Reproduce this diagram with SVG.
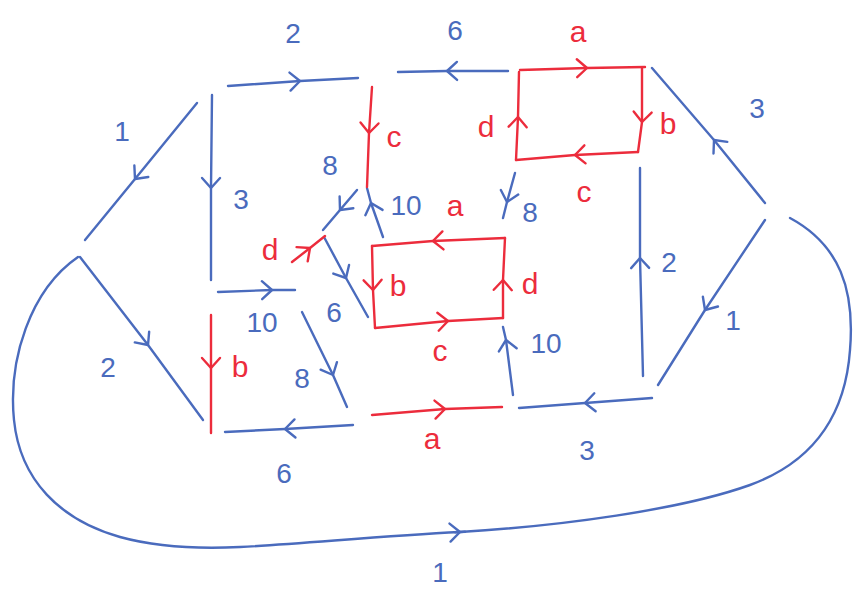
<svg xmlns="http://www.w3.org/2000/svg" width="855" height="593" viewBox="0 0 855 593">
<style>
.b{fill:none;stroke:#4a6bbd;stroke-width:2.4;stroke-linecap:round;stroke-linejoin:round}
.r{fill:none;stroke:#ec2c3c;stroke-width:2.4;stroke-linecap:round;stroke-linejoin:round}
.bm{marker-mid:url(#ab)}
.rm{marker-mid:url(#ar)}
.tb{fill:#4a6bbd;font-family:"Liberation Sans",Arial,sans-serif;font-size:28px;text-anchor:middle;dominant-baseline:central}
.tr{fill:#ec2c3c;font-family:"Liberation Sans",Arial,sans-serif;font-size:30px;text-anchor:middle;dominant-baseline:central}
</style>
<defs>
<marker id="ab" viewBox="-14 -14 28 28" markerWidth="28" markerHeight="28" markerUnits="userSpaceOnUse" orient="auto" refX="0" refY="0"><path d="M-10,-9 L0,0 L-10,9" fill="none" stroke="#4a6bbd" stroke-width="2.4" stroke-linecap="round" stroke-linejoin="round"/></marker>
<marker id="ar" viewBox="-14 -14 28 28" markerWidth="28" markerHeight="28" markerUnits="userSpaceOnUse" orient="auto" refX="0" refY="0"><path d="M-10,-9 L0,0 L-10,9" fill="none" stroke="#ec2c3c" stroke-width="2.4" stroke-linecap="round" stroke-linejoin="round"/></marker>
</defs>
<rect width="855" height="593" fill="#ffffff"/>
<g id="connectors">
<path class="b bm" d="M228,86 L300,81 L358,78"/>
<path class="b bm" d="M508,71 L447,71 L398,72"/>
<path class="b bm" d="M197,103 L135,179 L85,240"/>
<path class="b bm" d="M212,95 L211,188 L211,280"/>
<path class="b bm" d="M218,292 L272,290 L295,290"/>
<path class="b bm" d="M80,257 L148,345 L203,420"/>
<path class="b" d="M78,257 C30,290 8,360 14,420 C20,480 60,520 120,537 C160,548 200,549 240,547 C300,544 380,536 460,532 C560,526 680,510 750,485 C810,463 845,420 850,350 C855,290 840,245 790,218"/>
<path class="b bm" d="M455,532.3 L460,532 L465,531.7"/>
<path class="b bm" d="M765,203 L714,140 L652,68"/>
<path class="b bm" d="M765,220 L705,310 L658,385"/>
<path class="b bm" d="M643,376 L640,258 L640,168"/>
<path class="b bm" d="M652,398 L585,403 L519,408"/>
<path class="b bm" d="M513,395 L506,340 L503,327"/>
<path class="b bm" d="M515,173 L507,202 L503,218"/>
<path class="b bm" d="M383,237 L371,203 L367,188"/>
<path class="b bm" d="M357,190 L340,210 L323,230"/>
<path class="b bm" d="M324,237 L346,278 L368,317"/>
<path class="b bm" d="M302,312 L333,375 L347,407"/>
<path class="b bm" d="M353,425 L285,429 L225,432"/>
<path class="r rm" d="M520,70 L587,68 L645,67"/>
<path class="r rm" d="M642,68 L642,122 L638,152"/>
<path class="r rm" d="M638,152 L575,155 L516,160"/>
<path class="r rm" d="M516,160 L518,117 L519,72"/>
<path class="r rm" d="M505,238 L433,241 L372,246"/>
<path class="r rm" d="M372,246 L373,290 L375,328"/>
<path class="r rm" d="M375,328 L448,321 L503,318"/>
<path class="r rm" d="M503,318 L503,280 L505,238"/>
<path class="r rm" d="M372,87 L369,133 L367,187"/>
<path class="r rm" d="M292,262 L310,248 L325,236"/>
<path class="r rm" d="M211,315 L211,368 L211,433"/>
<path class="r rm" d="M372,415 L445,409 L502,407"/>
</g>
<g id="labels">
<text class="tb" x="293" y="33">2</text>
<text class="tb" x="455" y="30">6</text>
<text class="tb" x="122" y="131">1</text>
<text class="tb" x="241" y="199">3</text>
<text class="tb" x="262" y="322">10</text>
<text class="tb" x="108" y="367">2</text>
<text class="tb" x="440" y="572">1</text>
<text class="tb" x="757" y="108">3</text>
<text class="tb" x="669" y="262">2</text>
<text class="tb" x="733" y="320">1</text>
<text class="tb" x="587" y="450">3</text>
<text class="tb" x="546" y="343">10</text>
<text class="tb" x="530" y="212">8</text>
<text class="tb" x="406" y="205">10</text>
<text class="tb" x="330" y="165">8</text>
<text class="tb" x="334" y="312">6</text>
<text class="tb" x="302" y="378">8</text>
<text class="tb" x="284" y="473">6</text>
<text class="tr" x="578" y="31">a</text>
<text class="tr" x="668" y="123">b</text>
<text class="tr" x="584" y="191">c</text>
<text class="tr" x="486" y="126">d</text>
<text class="tr" x="394" y="136">c</text>
<text class="tr" x="455" y="205">a</text>
<text class="tr" x="398" y="285">b</text>
<text class="tr" x="440" y="350">c</text>
<text class="tr" x="530" y="283">d</text>
<text class="tr" x="270" y="249">d</text>
<text class="tr" x="240" y="366">b</text>
<text class="tr" x="432" y="438">a</text>
</g>
</svg>
